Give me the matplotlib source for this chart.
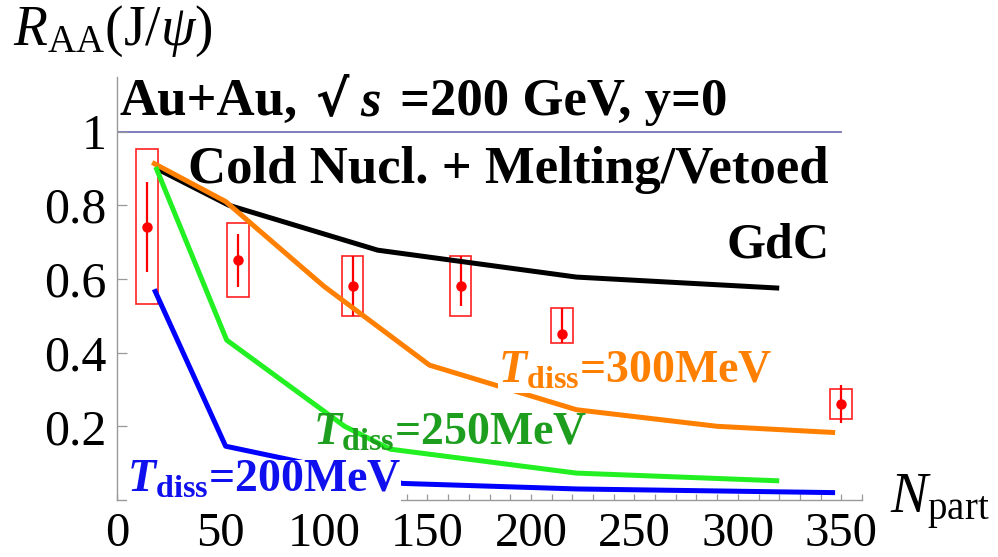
import matplotlib
matplotlib.use("Agg")
import matplotlib.pyplot as plt
from matplotlib.patches import Rectangle

plt.rcParams['font.family'] = ['Liberation Serif', 'DejaVu Serif']
plt.rcParams['mathtext.fontset'] = 'custom'
plt.rcParams['mathtext.rm'] = 'Liberation Serif'
plt.rcParams['mathtext.it'] = 'Liberation Serif:italic'
plt.rcParams['mathtext.bf'] = 'Liberation Serif:bold'
plt.rcParams['mathtext.bfit'] = 'Liberation Serif:italic:bold'

# ---- data ----
gdc_n = [19, 54, 126, 222, 320]
gdc_r = [0.90, 0.80, 0.678, 0.605, 0.575]

t300_n = [17, 52.5, 100, 151, 222, 290, 347]
t300_r = [0.916, 0.81, 0.58, 0.366, 0.245, 0.20, 0.183]

t250_n = [18.7, 53, 110, 132, 222, 320]
t250_r = [0.904, 0.434, 0.20, 0.138, 0.073, 0.052]

t200_n = [18, 52.5, 138, 222, 347]
t200_r = [0.572, 0.146, 0.045, 0.030, 0.020]

data_n = [14.4, 58.3, 113.8, 166, 215, 350]
data_r = [0.74, 0.651, 0.581, 0.581, 0.45, 0.26]
err_up = [0.122, 0.071, 0.081, 0.081, 0.072, 0.052]
err_dn = [0.122, 0.074, 0.082, 0.055, 0.025, 0.052]
sys_lo = [0.531, 0.550, 0.499, 0.499, 0.425, 0.219]
sys_hi = [0.952, 0.751, 0.662, 0.662, 0.522, 0.300]
sys_halfwidth = 5.3

xticks = [0, 50, 100, 150, 200, 250, 300, 350]
yticks = [0.2, 0.4, 0.6, 0.8, 1.0]
ytick_labels = ['0.2', '0.4', '0.6', '0.8', '1']

W, H = 998, 557
fig = plt.figure(figsize=(W / 100, H / 100), dpi=100)
ax = fig.add_axes([117 / W, 57 / H, 745 / W, 423 / H])
ax.set_xlim(0, 360)
ax.set_ylim(0, 1.148)

for s in ['top', 'right']:
    ax.spines[s].set_visible(False)
for s in ['left', 'bottom']:
    ax.spines[s].set_color('#999999')
    ax.spines[s].set_linewidth(1.0)

ax.set_xticks(xticks)
ax.set_xticks(range(0, 361, 10), minor=True)
ax.set_yticks(yticks)
ax.set_yticklabels(ytick_labels)
ax.tick_params(axis='x', which='both', direction='in', length=4, width=0.9,
               color='#999999', labelsize=35, pad=8.5)
ax.tick_params(axis='y', which='major', direction='in', length=7.5, width=0.9,
               color='#999999', labelsize=36, pad=7.5)

# reference line at 1
ax.plot([0, 350], [1, 1], color='#7373b5', lw=1.3, zorder=1)

# data with systematic boxes
for n, lo, hi in zip(data_n, sys_lo, sys_hi):
    ax.add_patch(Rectangle((n - sys_halfwidth, lo), 2 * sys_halfwidth, hi - lo,
                           fill=False, edgecolor='#ff2020', lw=1.2, zorder=2))
ax.errorbar(data_n, data_r, yerr=[err_dn, err_up], fmt='o', color='#ff0000',
            ms=6.5, elinewidth=1.6, capsize=0, zorder=2.5)

lw = 3.6
ax.plot(gdc_n, gdc_r, color='black', lw=lw, solid_capstyle='butt', zorder=3)
ax.plot(t300_n, t300_r, color='#ff8000', lw=lw, solid_capstyle='butt', zorder=3)
ax.plot(t250_n, t250_r, color='#22f022', lw=lw, solid_capstyle='butt', zorder=3)
ax.plot(t200_n, t200_r, color='#0000ff', lw=lw, solid_capstyle='butt', zorder=3)


def px(x, y):
    return x / W, 1 - y / H


bb = dict(facecolor='white', edgecolor='none', pad=0)
lab_kw = dict(fontsize=33, fontweight='bold', va='baseline', ha='left', zorder=5)
fig.text(*px(498, 383), r'$\mathbfit{T}_{\mathbf{diss}}$=300MeV', color='#ff8000',
         bbox=bb, **lab_kw)
fig.text(*px(313, 445), r'$\mathbfit{T}_{\mathbf{diss}}$=250MeV', color='#1e9e1e', **lab_kw)
fig.text(*px(127, 492), r'$\mathbfit{T}_{\mathbf{diss}}$=200MeV', color='#1010ee',
         bbox=bb, **lab_kw)

bold_kw = dict(color='black', fontweight='bold', va='baseline', ha='left')
fig.text(*px(120, 115), 'Au+Au,', fontsize=38, **bold_kw)
fig.text(*px(315, 115), '√', fontsize=36, family='DejaVu Sans', **bold_kw)
fig.text(*px(360, 115), r'$\mathbfit{s}$', fontsize=38, **bold_kw)
fig.text(*px(400, 115), '=200 GeV, y=0', fontsize=38, **bold_kw)
fig.text(*px(188, 183), 'Cold Nucl. + Melting/Vetoed', fontsize=38, **bold_kw)
fig.text(*px(830, 258), 'GdC', color='black', fontsize=36, fontweight='bold',
         va='baseline', ha='right')

fig.text(*px(13, 45), r'$R_{\mathrm{AA}}$(J/$\psi$)', color='black',
         fontsize=40, va='baseline', ha='left')
fig.text(*px(890, 513), r'$N_{\mathrm{part}}$', color='black',
         fontsize=40, va='baseline', ha='left')

fig.savefig('out.png', dpi=100)
